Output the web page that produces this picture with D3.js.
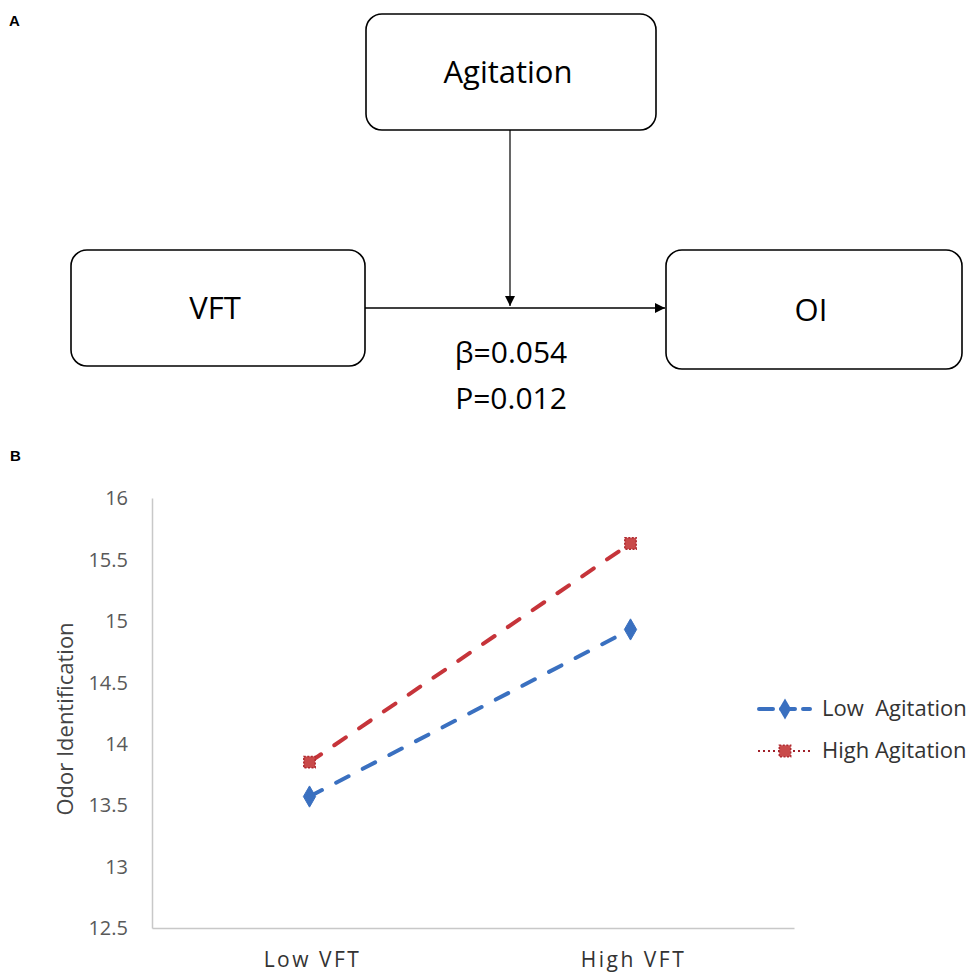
<!DOCTYPE html>
<html>
<head>
<meta charset="utf-8">
<script src="https://cdn.jsdelivr.net/npm/d3@7"></script>
<style>
  html, body { margin: 0; padding: 0; background: #fff; }
  svg { display: block; }
</style>
</head>
<body>
<svg id="chart" width="976" height="979"></svg>
<script>
// ---------- Data ----------
const categories = ["Low VFT", "High VFT"];
const seriesNames = ["Low  Agitation", "High Agitation"];
const lowAgitation = [13.57, 14.93];
const highAgitation = [13.85, 15.63];
const yTicks = [12.5, 13, 13.5, 14, 14.5, 15, 15.5, 16];
const yTitle = "Odor Identification";
const diagramNodes = ["Agitation", "VFT", "OI"];
const statLines = ["β=0.054", "P=0.012"];

const font = "'Open Sans', 'Noto Sans', sans-serif";
const svg = d3.select("#chart");

// ---------- Panel A: diagram ----------
const A = svg.append("g");
A.append("text").attr("x", 9).attr("y", 26).text("A")
  .attr("font-family", "'Liberation Sans', Arial, sans-serif").attr("font-weight", "bold").attr("font-size", 15);

const boxes = [
  {name: diagramNodes[0], x: 366, y: 14, w: 290, h: 116},
  {name: diagramNodes[1], x: 71, y: 250, w: 294, h: 116},
  {name: diagramNodes[2], x: 666, y: 250, w: 296, h: 119}
];
boxes.forEach(b => {
  A.append("rect").attr("x", b.x).attr("y", b.y).attr("width", b.w).attr("height", b.h)
    .attr("rx", 16).attr("ry", 16).attr("fill", "#fff").attr("stroke", "#000").attr("stroke-width", 1.6);
  A.append("text").attr("x", b.x + b.w / 2 - 3).attr("y", b.y + b.h / 2 + 11)
    .attr("text-anchor", "middle").attr("font-family", font).attr("font-size", 31).attr("fill", "#000")
    .text(b.name);
});

const defs = svg.append("defs");
defs.append("marker").attr("id", "arr").attr("viewBox", "0 0 10 10").attr("refX", 10).attr("refY", 5)
  .attr("markerWidth", 10).attr("markerHeight", 10).attr("markerUnits", "userSpaceOnUse").attr("orient", "auto")
  .append("path").attr("d", "M0,0 L10,5 L0,10 Z").attr("fill", "#000");

// horizontal arrow
A.append("line").attr("x1", 365).attr("y1", 308).attr("x2", 665).attr("y2", 308)
  .attr("stroke", "#000").attr("stroke-width", 1.6).attr("marker-end", "url(#arr)");
// vertical arrow
A.append("line").attr("x1", 510).attr("y1", 130).attr("x2", 510).attr("y2", 306)
  .attr("stroke", "#000").attr("stroke-width", 1.2).attr("marker-end", "url(#arr)");

statLines.forEach((s, i) => {
  A.append("text").attr("x", 511).attr("y", 363 + i * 46).attr("text-anchor", "middle")
    .attr("font-family", font).attr("font-size", 30).attr("fill", "#000").text(s);
});

// ---------- Panel B: chart ----------
svg.append("text").attr("x", 10).attr("y", 461).text("B")
  .attr("font-family", "'Liberation Sans', Arial, sans-serif").attr("font-weight", "bold").attr("font-size", 15);

const x = d3.scaleBand().domain(categories).range([152, 794]).paddingInner(0).paddingOuter(0);
const y = d3.scaleLinear().domain([12.5, 16]).range([928, 498]);

const B = svg.append("g");

// axes
const yAxis = d3.axisLeft(y).tickValues(yTicks).tickSize(0).tickPadding(24).tickFormat(d => String(d));
const gy = B.append("g").attr("transform", "translate(152,0)").call(yAxis);
gy.select(".domain").attr("stroke", "#c8c8c8").attr("stroke-width", 1.5);
gy.selectAll("text").attr("font-family", font).attr("font-size", 20).attr("fill", "#595959").attr("dy", "0.34em");

const xAxis = d3.axisBottom(x).tickSize(0).tickPadding(24);
const gx = B.append("g").attr("transform", "translate(0,928)").call(xAxis);
gx.select(".domain").attr("stroke", "#c8c8c8").attr("stroke-width", 1.5);
gx.selectAll("text").attr("font-family", font).attr("font-size", 21).attr("fill", "#333")
  .attr("letter-spacing", "2.5px");

// y title
B.append("text").attr("transform", "translate(73,719) rotate(-90)").attr("text-anchor", "middle")
  .attr("font-family", font).attr("font-size", 22).attr("fill", "#444").text(yTitle);

const cx = d => x(d) + x.bandwidth() / 2 - 3;
const line = d3.line().x((d, i) => cx(categories[i])).y(d => y(d));

const blue = "#3a70c0";
const red = "#c6343a";

// lines
B.append("path").datum(highAgitation).attr("d", line).attr("fill", "none")
  .attr("stroke", red).attr("stroke-width", 4).attr("stroke-dasharray", "14,16").attr("stroke-linecap", "round");
B.append("path").datum(lowAgitation).attr("d", line).attr("fill", "none")
  .attr("stroke", blue).attr("stroke-width", 4).attr("stroke-dasharray", "14,16").attr("stroke-linecap", "round");

// markers
const diamond = d3.symbol().type(d3.symbolDiamond).size(130);
const square = d3.symbol().type(d3.symbolSquare).size(130);
lowAgitation.forEach((v, i) => {
  B.append("path").attr("d", diamond).attr("transform", `translate(${cx(categories[i])},${y(v)})`)
    .attr("fill", blue).attr("stroke", blue).attr("stroke-width", 1);
});
highAgitation.forEach((v, i) => {
  B.append("path").attr("d", square).attr("transform", `translate(${cx(categories[i])},${y(v)})`)
    .attr("fill", "#c94a4a").attr("stroke", "#b02a30").attr("stroke-width", 1.5).attr("stroke-dasharray", "2,1.5");
});

// legend
const leg = B.append("g");
const legY = [709, 751];
leg.append("line").attr("x1", 759).attr("x2", 810).attr("y1", legY[0]).attr("y2", legY[0])
  .attr("stroke", blue).attr("stroke-width", 4).attr("stroke-dasharray", "14,8").attr("stroke-linecap", "round");
leg.append("path").attr("d", diamond).attr("transform", `translate(785,${legY[0]})`).attr("fill", blue);
leg.append("line").attr("x1", 758).attr("x2", 812).attr("y1", legY[1]).attr("y2", legY[1])
  .attr("stroke", "#a0202a").attr("stroke-width", 2).attr("stroke-dasharray", "2,3");
leg.append("path").attr("d", square).attr("transform", `translate(785,${legY[1]})`).attr("fill", "#c94a4a")
  .attr("stroke", "#b02a30").attr("stroke-width", 1.5).attr("stroke-dasharray", "2,1.5");
seriesNames.forEach((s, i) => {
  leg.append("text").attr("x", 822).attr("y", legY[i] + 7).attr("font-family", font).attr("font-size", 22)
    .attr("fill", "#333").attr("xml:space", "preserve").style("white-space", "pre").text(s);
});
</script>
</body>
</html>
